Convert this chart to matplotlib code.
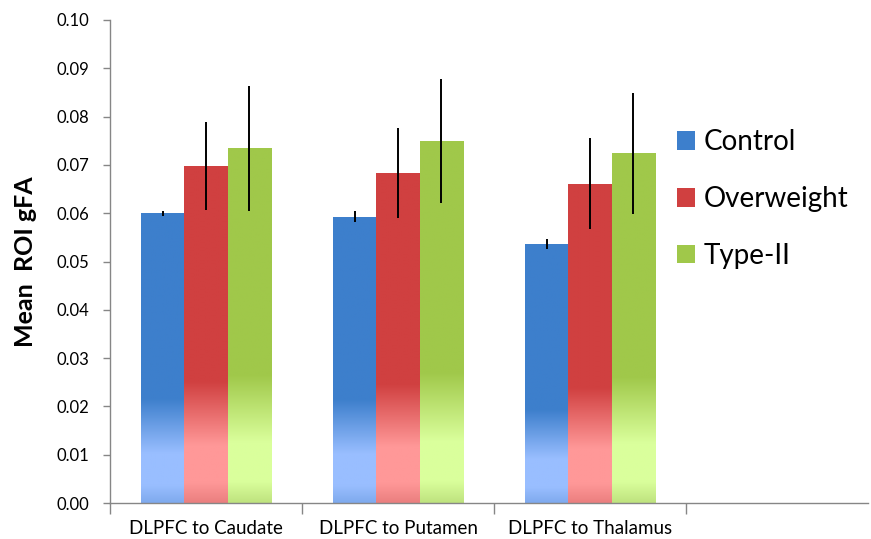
import numpy as np
import matplotlib
matplotlib.use("Agg")
import matplotlib.pyplot as plt
from matplotlib.colors import LinearSegmentedColormap
from matplotlib.patches import Patch

categories = ["DLPFC to Caudate", "DLPFC to Putamen", "DLPFC to Thalamus"]
groups = ["Control", "Overweight", "Type-II"]
control = [0.0600, 0.0593, 0.0536]
overweight = [0.0697, 0.0683, 0.0661]
type2 = [0.0734, 0.0749, 0.0724]
control_err = [0.0005, 0.0011, 0.0011]
overweight_err = [0.0091, 0.0093, 0.0094]
type2_err = [0.0129, 0.0128, 0.0125]
yticks = [0.00, 0.01, 0.02, 0.03, 0.04, 0.05, 0.06, 0.07, 0.08, 0.09, 0.10]

series = [control, overweight, type2]
errors = [control_err, overweight_err, type2_err]
dark = ["#3D7FCC", "#D04040", "#A0C84A"]
light = ["#99BEFF", "#FF9898", "#DAFF9C"]
bottom = ["#7FAAEE", "#EB7F7F", "#BFE37F"]

plt.rcParams['font.family'] = ['Lato', 'DejaVu Sans']
fig = plt.figure(figsize=(8.71, 5.39), dpi=100)
ax = fig.add_axes([110/871, 1-503/539, (868-110)/871, (503-20)/539])

x = np.arange(len(categories))
w = 0.224
for i, (vals, errs) in enumerate(zip(series, errors)):
    pos = x + (i - 1) * w
    bars = ax.bar(pos, vals, width=w, color=dark[i], edgecolor='none', zorder=2)
    cmap = LinearSegmentedColormap.from_list(
        f"g{i}", [(0.0, dark[i]), (0.64, dark[i]), (0.83, light[i]), (0.94, light[i]), (1.0, bottom[i])])
    for b in bars:
        bx, by = b.get_x(), b.get_y()
        bw, bh = b.get_width(), b.get_height()
        grad = np.linspace(0, 1, 256).reshape(-1, 1)
        im = ax.imshow(grad, cmap=cmap, aspect='auto', extent=[bx, bx + bw, by, by + bh],
                       origin='upper', zorder=2.1, interpolation='bilinear')
        im.set_clip_path(b)
    ax.errorbar(pos, vals, yerr=errs, fmt='none', ecolor='black', elinewidth=1.4, capsize=0, zorder=3)

ax.set_xlim(-0.5, -0.5 + (868 - 110) / 192)
ax.set_ylim(0, 0.10)
ax.set_yticks(yticks)
ax.set_yticklabels([f"{v:.2f}" for v in yticks], fontsize=12)
ax.set_xticks(x)
ax.set_xticklabels(categories, fontsize=13.5)
ax.set_xticks(np.arange(-0.5, 3.0, 1.0), minor=True)
ax.tick_params(axis='x', which='major', length=0, pad=12)
ax.tick_params(axis='x', which='minor', length=8, color='#868686', width=1)
ax.tick_params(axis='y', length=5, color='#868686', width=1, pad=10)
for s in ['top', 'right']:
    ax.spines[s].set_visible(False)
for s in ['left', 'bottom']:
    ax.spines[s].set_color('#868686')
    ax.spines[s].set_linewidth(1)
ax.set_ylabel("Mean  ROI gFA", fontsize=18, fontweight='bold', labelpad=14)

handles = [Patch(facecolor=c, edgecolor='none') for c in dark]
ax.legend(handles, groups, loc='center left', bbox_to_anchor=(677/871, 1-199/539),
          bbox_transform=fig.transFigure, frameon=False, fontsize=20,
          handlelength=0.65, handleheight=0.65, handletextpad=0.3, labelspacing=1.1,
          borderpad=0, borderaxespad=0)

fig.savefig("out.png", dpi=100)
